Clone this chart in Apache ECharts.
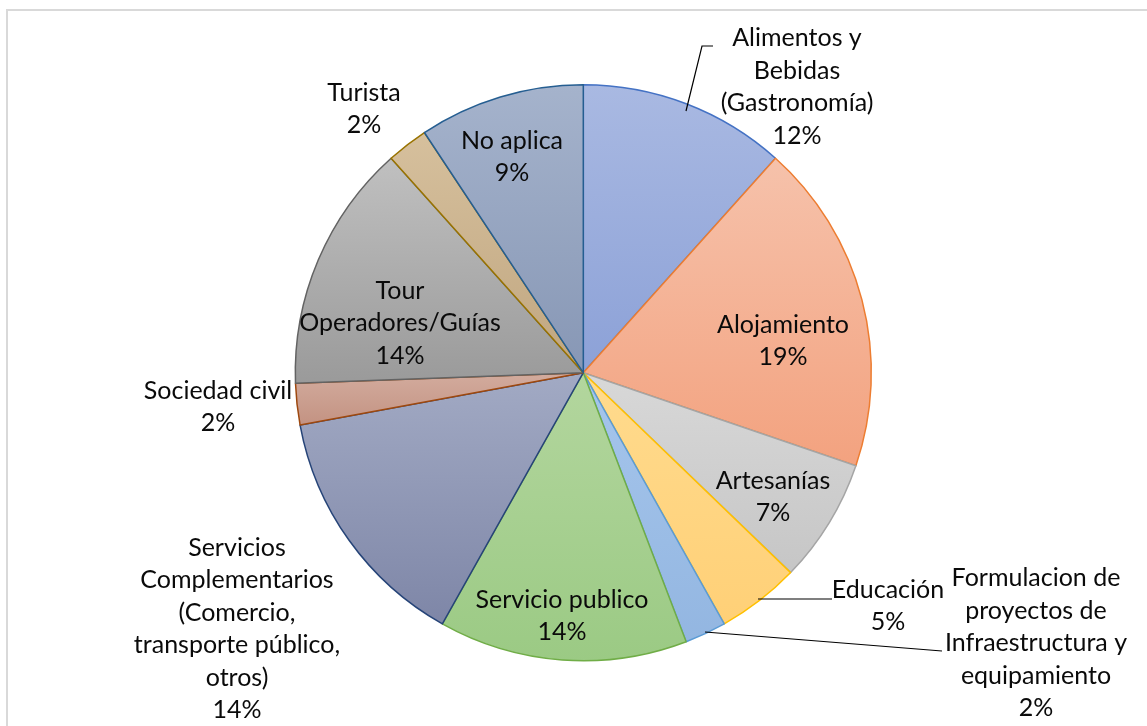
<!DOCTYPE html>
<html><head><meta charset="utf-8">
<script src="https://cdn.jsdelivr.net/npm/echarts@6/dist/echarts.min.js"></script>
<style>html,body{margin:0;padding:0;background:#fff}#c{width:1147px;height:726px}</style>
</head><body><div id="c"></div>
<script>
// Categories (label text, with the original line breaks)
const categories = [
  'Alimentos y\nBebidas\n(Gastronomía)',
  'Alojamiento',
  'Artesanías',
  'Educación',
  'Formulacion de\nproyectos de\nInfraestructura y\nequipamiento',
  'Servicio publico',
  'Servicios\nComplementarios\n(Comercio,\ntransporte público,\notros)',
  'Sociedad civil',
  'Tour\nOperadores/Guías',
  'Turista',
  'No aplica'
];
// Counts (total 43)
const counts = [5, 8, 3, 2, 1, 6, 6, 1, 6, 1, 4];

// Styles
const fillTop    = ['#A9B9E2','#F6C2AB','#D8D8D8','#FFDB8E','#A6C6EC','#B3D69E','#A2AAC4','#D3AC9E','#C0C0C0','#D6C09D','#A5B3CC'];
const fillBottom = ['#8CA1D7','#F3A27F','#C6C6C6','#FFD077','#93B6E1','#9BCA84','#7E86A7','#C39282','#9A9A9A','#C0A680','#8797B5'];
const borders    = ['#4472C4','#ED7D31','#A5A5A5','#FFC000','#5B9BD5','#70AD47','#264478','#9E480E','#636363','#997300','#255E91'];
const labelPos = [[797,87],[783,341],[773,497],[888,606],[1036,643],[562,616],[237,629],[218,407],[400,323],[364,109],[512,157]];

const chart = echarts.init(document.getElementById('c'), null, {renderer: 'canvas'});
const data = categories.map((n, i) => ({
  name: n,
  value: counts[i],
  itemStyle: {
    color: {type: 'linear', x: 0, y: 0, x2: 0, y2: 1,
      colorStops: [{offset: 0, color: fillTop[i]}, {offset: 1, color: fillBottom[i]}]},
    borderColor: borders[i],
    borderWidth: 1.5
  }
}));

chart.setOption({
  backgroundColor: '#ffffff',
  animation: false,
  graphic: [
    {type: 'rect', shape: {x: 7, y: 10, width: 1200, height: 800}, style: {fill: 'none', stroke: '#D9D9D9', lineWidth: 2}, z: -1},
    {type: 'polyline', shape: {points: [[686,111],[702,46],[713,46]]}, style: {stroke: '#000', lineWidth: 1.2, fill: 'none'}, z: 10},
    {type: 'polyline', shape: {points: [[758,599],[832,599]]}, style: {stroke: '#000', lineWidth: 1.2, fill: 'none'}, z: 10},
    {type: 'polyline', shape: {points: [[705,632],[942,651]]}, style: {stroke: '#000', lineWidth: 1.2, fill: 'none'}, z: 10}
  ],
  series: [{
    type: 'pie',
    center: [583.3, 372.7],
    radius: [0, 288],
    startAngle: 90,
    clockwise: true,
    percentPrecision: 0,
    avoidLabelOverlap: false,
    data: data,
    label: {
      show: true,
      position: 'outside',
      formatter: p => p.name + '\n' + p.percent + '%',
      fontFamily: 'Lato',
      fontSize: 25,
      lineHeight: 32.5,
      color: '#0a0a0a',
      align: 'center'
    },
    labelLine: {show: false},
    labelLayout: p => ({
      x: labelPos[p.dataIndex][0],
      y: labelPos[p.dataIndex][1],
      align: 'center',
      verticalAlign: 'middle'
    }),
    emphasis: {disabled: true}
  }]
});
</script></body></html>
